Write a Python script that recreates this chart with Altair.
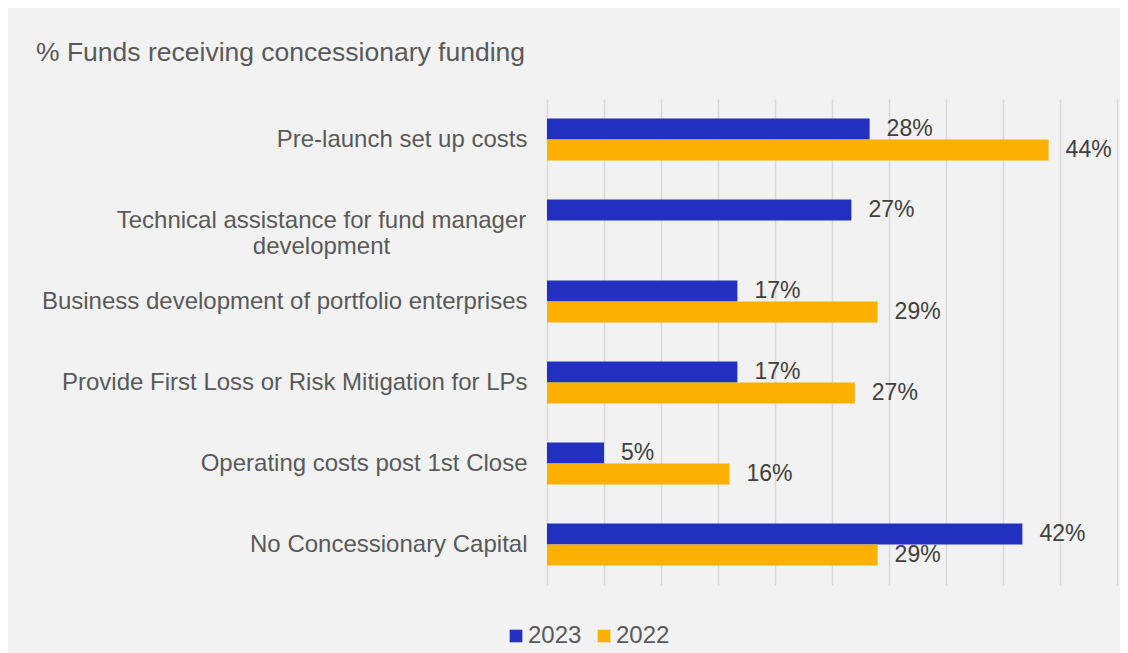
import altair as alt
import pandas as pd

categories = [
    "Pre-launch set up costs",
    "Technical assistance for fund manager development",
    "Business development of portfolio enterprises",
    "Provide First Loss or Risk Mitigation for LPs",
    "Operating costs post 1st Close",
    "No Concessionary Capital",
]
v2023 = [28.3, 26.7, 16.7, 16.7, 5.0, 41.7]
v2022 = [44.0, None, 29.0, 27.0, 16.0, 29.0]
series = ["2023", "2022"]
colors = ["#2130BF", "#FCB000"]
x_ticks = [0, 5, 10, 15, 20, 25, 30, 35, 40, 45, 50]

rows = []
for c, a, b in zip(categories, v2023, v2022):
    if a is not None:
        rows.append({"category": c, "year": "2023", "value": a})
    if b is not None:
        rows.append({"category": c, "year": "2022", "value": b})
df = pd.DataFrame(rows)
df["label"] = df["value"].round().astype(int).astype(str) + "%"

FONT = "Liberation Sans"
wrap_test = f"datum.value == '{categories[1]}'"
label_expr = (
    f"{wrap_test} ? ['Technical assistance for fund manager', 'development'] : datum.label"
)

base = alt.Chart(df)

y_enc = alt.Y(
    "category:N",
    sort=categories,
    scale=alt.Scale(domain=categories, paddingInner=0.48, paddingOuter=0.24),
    axis=alt.Axis(
        title=None, ticks=False, domain=False,
        labelPadding={"condition": {"test": wrap_test, "value": 226}, "value": 20},
        labelAlign={"condition": {"test": wrap_test, "value": "center"}, "value": "right"},
        labelFontSize=24, labelColor="#595959", labelFont=FONT, labelLimit=700,
        labelExpr=label_expr, labelLineHeight=26,
    ),
)
yoff_enc = alt.YOffset("year:N", sort=series,
                       scale=alt.Scale(domain=series, paddingInner=0, paddingOuter=0))
x_enc = alt.X(
    "value:Q",
    scale=alt.Scale(domain=[0, 50], nice=False),
    axis=alt.Axis(values=x_ticks, labels=False, ticks=False, domain=False, grid=True,
                  gridColor="#d9d9d9", gridWidth=1.5, title=None),
)

bars = base.mark_bar().encode(
    y=y_enc,
    yOffset=yoff_enc,
    x=x_enc,
    color=alt.Color(
        "year:N", sort=series,
        scale=alt.Scale(domain=series, range=colors),
        legend=alt.Legend(
            title=None, orient="none", legendX=-43, legendY=525, direction="horizontal",
            symbolType="square", symbolSize=160, symbolStrokeWidth=0,
            labelFontSize=24, labelColor="#595959", labelFont=FONT,
            labelOffset=0, columnPadding=10, padding=0,
        ),
    ),
)

texts = base.mark_text(align="left", baseline="middle", dx=17, fontSize=23,
                       color="#404040", font=FONT).encode(
    y=alt.Y("category:N", sort=categories),
    yOffset=alt.YOffset("year:N", sort=series),
    x=alt.X("value:Q"),
    text="label:N",
)

chart = alt.layer(bars, texts).properties(
    width=570,
    height=486,
    title=alt.Title(
        "% Funds receiving concessionary funding", anchor="start", frame="group",
        dx=-511, offset=33, fontSize=26.5, font=FONT, fontWeight="normal", color="#595959",
    ),
    background="#f2f2f2",
    autosize=alt.AutoSizeParams(type="none"),
    padding={"left": 539, "top": 91, "right": 3, "bottom": 68},
).configure_view(stroke=None)

chart.save("out.html", embed_options={"renderer": "svg", "actions": False})
